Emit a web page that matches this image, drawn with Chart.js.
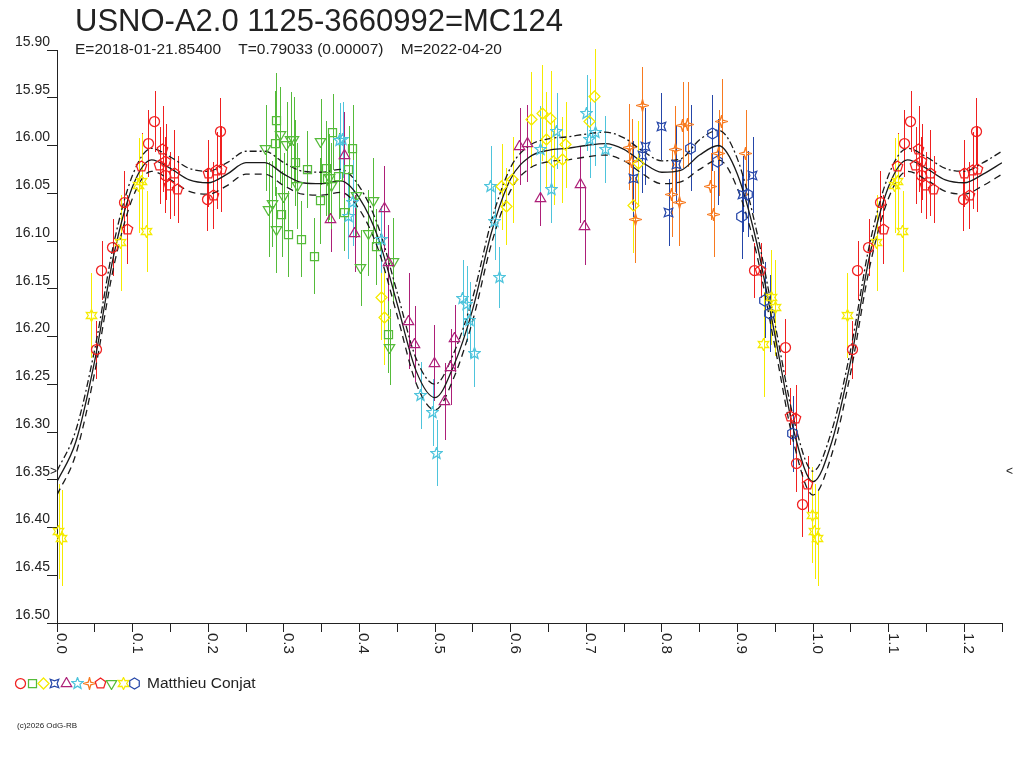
<!DOCTYPE html>
<html>
<head>
<meta charset="utf-8">
<title>MC124 light curve</title>
<script src="https://cdn.jsdelivr.net/npm/chart.js@4.4.1/dist/chart.umd.min.js"></script>
<style>
  html, body { margin: 0; padding: 0; background: #fff; }
  #chartCanvas { display: block; }
</style>
</head>
<body>
<canvas id="chartCanvas" width="1024" height="768"></canvas>
<script>
// Texts
const titleText = "USNO-A2.0 1125-3660992=MC124";
const subtitleText = "E=2018-01-21.85400    T=0.79033 (0.00007)    M=2022-04-20";
const observerName = "Matthieu Conjat";
const footerText = "(c)2026 OdG-RB";

// Axis ranges
const phaseMin = 0;
const phaseMax = 1.25;
const magMin = 15.90;
const magMax = 16.50;
const markLevel = 16.342;

// Fitted light curve (phase, magnitude, upper / lower confidence band)
const fitPhase = [0.000, 0.025, 0.050, 0.075, 0.100, 0.125, 0.150, 0.175, 0.200, 0.225,
                  0.250, 0.275, 0.300, 0.325, 0.350, 0.375, 0.400, 0.425, 0.450, 0.475,
                  0.500, 0.525, 0.550, 0.575, 0.600, 0.625, 0.650, 0.675, 0.700, 0.725,
                  0.750, 0.775, 0.800, 0.825, 0.850, 0.875, 0.900, 0.925, 0.950, 0.975, 1.000];
const fitMag = [16.352, 16.310, 16.225, 16.115, 16.043, 16.015, 16.024, 16.036, 16.039, 16.030,
                16.018, 16.018, 16.030, 16.039, 16.040, 16.037, 16.055, 16.097, 16.166, 16.236,
                16.264, 16.230, 16.171, 16.090, 16.035, 16.012, 16.005, 16.003, 16.000, 15.998,
                16.004, 16.018, 16.028, 16.026, 16.010, 16.000, 16.030, 16.100, 16.200, 16.300, 16.352];
const fitUpper = [16.341, 16.298, 16.213, 16.103, 16.031, 16.003, 16.012, 16.024, 16.027, 16.018,
                  16.006, 16.006, 16.018, 16.027, 16.028, 16.025, 16.043, 16.085, 16.154, 16.223,
                  16.250, 16.217, 16.159, 16.078, 16.023, 16.000, 15.993, 15.991, 15.988, 15.986,
                  15.992, 16.006, 16.016, 16.014, 15.994, 15.984, 16.014, 16.088, 16.188, 16.288, 16.341];
const fitLower = [16.366, 16.323, 16.237, 16.127, 16.055, 16.027, 16.036, 16.048, 16.051, 16.042,
                  16.030, 16.030, 16.042, 16.051, 16.052, 16.049, 16.067, 16.109, 16.178, 16.249,
                  16.277, 16.243, 16.183, 16.102, 16.047, 16.024, 16.017, 16.015, 16.012, 16.010,
                  16.016, 16.030, 16.040, 16.038, 16.025, 16.015, 16.045, 16.112, 16.212, 16.313, 16.366];

// Observations: [phase, magnitude, error]
const redCircles = [
  [0.052, 16.214, 0.030], [0.059, 16.131, 0.031], [0.074, 16.107, 0.030], [0.089, 16.060, 0.033],
  [0.121, 15.998, 0.035], [0.129, 15.975, 0.032], [0.143, 16.031, 0.040], [0.199, 16.057, 0.033],
  [0.216, 15.985, 0.035], [0.922, 16.131, 0.029], [0.963, 16.211, 0.029], [0.978, 16.333, 0.030],
  [0.986, 16.376, 0.034]
];
const greenSquares = [
  [0.290, 15.974, 0.050], [0.289, 15.998, 0.055], [0.365, 15.986, 0.040], [0.391, 16.003, 0.045],
  [0.315, 16.018, 0.045], [0.331, 16.025, 0.040], [0.356, 16.024, 0.050], [0.386, 16.025, 0.045],
  [0.373, 16.032, 0.045], [0.348, 16.058, 0.045], [0.297, 16.072, 0.045], [0.380, 16.070, 0.040],
  [0.306, 16.093, 0.045], [0.323, 16.098, 0.040], [0.340, 16.116, 0.040], [0.422, 16.106, 0.040],
  [0.358, 16.035, 0.045], [0.438, 16.198, 0.040]
];
const yellowDiamonds = [
  [0.429, 16.159, 0.045], [0.433, 16.180, 0.050], [0.588, 16.043, 0.045], [0.594, 16.064, 0.040],
  [0.603, 16.036, 0.045], [0.627, 15.973, 0.050], [0.642, 15.966, 0.050], [0.647, 15.994, 0.050],
  [0.653, 15.972, 0.050], [0.657, 16.017, 0.045], [0.668, 16.015, 0.045], [0.673, 15.999, 0.045],
  [0.705, 15.975, 0.045], [0.711, 15.949, 0.050], [0.762, 16.063, 0.050], [0.769, 16.019, 0.045]
];
const blueCrosses = [
  [0.799, 15.980, 0.035], [0.778, 16.001, 0.040], [0.774, 16.010, 0.040], [0.762, 16.035, 0.040],
  [0.809, 16.070, 0.035], [0.819, 16.020, 0.040], [0.920, 16.031, 0.040], [0.907, 16.051, 0.040]
];
const purpleTriangles = [
  [0.612, 16.001, 0.040], [0.622, 15.998, 0.040], [0.639, 16.056, 0.028], [0.692, 16.041, 0.040],
  [0.698, 16.085, 0.040], [0.380, 16.010, 0.045], [0.362, 16.077, 0.035], [0.394, 16.092, 0.040],
  [0.433, 16.066, 0.045], [0.438, 16.123, 0.040], [0.465, 16.184, 0.050], [0.473, 16.208, 0.040],
  [0.499, 16.228, 0.040], [0.521, 16.232, 0.040], [0.526, 16.202, 0.035], [0.513, 16.268, 0.040]
];
const cyanStars = [
  [0.574, 16.043, 0.042], [0.579, 16.080, 0.040], [0.585, 16.138, 0.032], [0.639, 16.004, 0.045],
  [0.654, 16.046, 0.035], [0.661, 15.985, 0.040], [0.701, 15.966, 0.040], [0.705, 15.994, 0.040],
  [0.712, 15.986, 0.035], [0.725, 16.004, 0.035], [0.537, 16.160, 0.040], [0.542, 16.166, 0.040],
  [0.546, 16.183, 0.040], [0.552, 16.218, 0.035], [0.481, 16.262, 0.035], [0.497, 16.280, 0.035],
  [0.502, 16.322, 0.035], [0.374, 15.995, 0.040], [0.378, 15.994, 0.040], [0.391, 16.060, 0.045],
  [0.385, 16.074, 0.045], [0.429, 16.098, 0.035]
];
const orangeSparks = [
  [0.774, 15.958, 0.040], [0.757, 16.002, 0.045], [0.760, 16.017, 0.045], [0.765, 16.078, 0.045],
  [0.818, 16.004, 0.045], [0.813, 16.051, 0.045], [0.823, 16.060, 0.045], [0.828, 15.979, 0.045],
  [0.834, 15.978, 0.045], [0.879, 15.975, 0.045], [0.875, 16.008, 0.045], [0.865, 16.043, 0.035],
  [0.869, 16.072, 0.045], [0.911, 16.008, 0.045]
];
const redPentagons = [
  [0.093, 16.088, 0.036], [0.112, 16.022, 0.035], [0.136, 16.021, 0.040], [0.140, 16.004, 0.045],
  [0.144, 16.017, 0.040], [0.149, 16.042, 0.035], [0.155, 16.029, 0.045], [0.160, 16.046, 0.035],
  [0.200, 16.029, 0.035], [0.207, 16.052, 0.035], [0.211, 16.026, 0.040], [0.217, 16.025, 0.045],
  [0.931, 16.131, 0.029], [0.970, 16.284, 0.030], [0.977, 16.286, 0.035], [0.993, 16.355, 0.030]
];
const greenDownTriangles = [
  [0.276, 16.003, 0.045], [0.295, 15.989, 0.050], [0.304, 15.999, 0.045], [0.309, 15.994, 0.050],
  [0.313, 15.994, 0.045], [0.349, 15.996, 0.045], [0.285, 16.061, 0.045], [0.280, 16.067, 0.050],
  [0.290, 16.088, 0.045], [0.300, 16.053, 0.045], [0.318, 16.042, 0.045], [0.360, 16.033, 0.045],
  [0.363, 16.042, 0.045], [0.396, 16.052, 0.045], [0.418, 16.058, 0.045], [0.412, 16.092, 0.045],
  [0.402, 16.128, 0.040], [0.445, 16.121, 0.045], [0.440, 16.211, 0.040]
];
const yellowStars = [
  [0.045, 16.178, 0.045], [0.084, 16.102, 0.050], [0.108, 16.042, 0.050], [0.112, 16.038, 0.050],
  [0.119, 16.090, 0.042], [0.935, 16.208, 0.055], [0.945, 16.159, 0.050], [0.950, 16.170, 0.050],
  [0.999, 16.387, 0.050], [0.002, 16.404, 0.050], [0.006, 16.411, 0.050]
];
const blueHexagons = [
  [0.867, 15.987, 0.040], [0.838, 16.003, 0.045], [0.874, 16.017, 0.045], [0.906, 16.074, 0.045],
  [0.914, 16.051, 0.045], [0.936, 16.162, 0.040], [0.943, 16.176, 0.040], [0.973, 16.302, 0.040]
];

// Series in legend order
const seriesPoints = [redCircles, greenSquares, yellowDiamonds, blueCrosses, purpleTriangles, cyanStars,
                      orangeSparks, redPentagons, greenDownTriangles, yellowStars, blueHexagons];
const seriesColors = ["#f02020", "#55bb3a", "#f5eb00", "#2546a8", "#ad1f78", "#4ec4dc",
                      "#f77a20", "#f02020", "#55bb3a", "#f5eb00", "#2546a8"];
const seriesShapes = ["circle", "square", "diamond", "cross4", "triangle", "star5",
                      "spark4", "pentagon", "downTriangle", "star6", "hexagon"];

// Marker images
const polygon = (c, n, r, rot) => {
  c.beginPath();
  for (let i = 0; i < n; i++) {
    const a = rot + i * 2 * Math.PI / n;
    const px = 6.5 + r * Math.cos(a), py = 6.5 + r * Math.sin(a);
    i ? c.lineTo(px, py) : c.moveTo(px, py);
  }
  c.closePath();
};
const starPath = (c, n, ro, ri, rot) => {
  c.beginPath();
  for (let i = 0; i < 2 * n; i++) {
    const r = i % 2 ? ri : ro;
    const a = rot + i * Math.PI / n;
    const px = 6.5 + r * Math.cos(a), py = 6.5 + r * Math.sin(a);
    i ? c.lineTo(px, py) : c.moveTo(px, py);
  }
  c.closePath();
};
const makeMarker = (shape, color) => {
  const cv = document.createElement("canvas");
  cv.width = 13;
  cv.height = 13;
  const c = cv.getContext("2d");
  c.strokeStyle = color;
  c.lineWidth = 1.25;
  const up = -Math.PI / 2;
  switch (shape) {
    case "circle": c.beginPath(); c.arc(6.5, 6.5, 5, 0, 2 * Math.PI); break;
    case "square": c.beginPath(); c.rect(2.5, 2.5, 8, 8); break;
    case "diamond": polygon(c, 4, 5.5, up); break;
    case "cross4": starPath(c, 4, 6, 2.6, Math.PI / 4); break;
    case "triangle": polygon(c, 3, 6, up); break;
    case "star5": starPath(c, 5, 6, 2.6, up); break;
    case "spark4": starPath(c, 4, 6, 1.8, up); break;
    case "pentagon": polygon(c, 5, 5.5, up); break;
    case "downTriangle": polygon(c, 3, 6, Math.PI / 2); break;
    case "star6": starPath(c, 6, 6, 3.2, up); break;
    case "hexagon": polygon(c, 6, 5.5, up); break;
  }
  c.stroke();
  return cv;
};
const markers = seriesShapes.map((s, i) => makeMarker(s, seriesColors[i]));

// Phase-folded data: phases below 0.25 are shown again after 1.0
const foldPoints = pts => {
  const out = pts.map(p => ({ x: p[0], y: p[1], e: p[2] }));
  pts.forEach(p => { if (p[0] + 1 <= phaseMax) out.push({ x: p[0] + 1, y: p[1], e: p[2] }); });
  return out;
};
const foldCurve = mags => {
  const out = fitPhase.map((ph, i) => ({ x: ph, y: mags[i] }));
  fitPhase.forEach((ph, i) => { if (ph > 0 && ph + 1 <= phaseMax) out.push({ x: ph + 1, y: mags[i] }); });
  return out;
};

const fontFamily = '"Liberation Sans", Arial, sans-serif';
const inkColor = "#222";

// Error bars under the markers
const errorBars = {
  id: "errorBars",
  beforeDatasetsDraw(chart) {
    const ctx = chart.ctx;
    const xs = chart.scales.x, ys = chart.scales.y;
    ctx.save();
    ctx.lineWidth = 1;
    chart.data.datasets.forEach(ds => {
      if (!ds.errorBars) return;
      ctx.strokeStyle = ds.borderColor;
      ds.data.forEach(p => {
        const px = Math.round(xs.getPixelForValue(p.x)) + 0.5;
        ctx.beginPath();
        ctx.moveTo(px, Math.round(ys.getPixelForValue(p.y - p.e)));
        ctx.lineTo(px, Math.round(ys.getPixelForValue(p.y + p.e)));
        ctx.stroke();
      });
    });
    ctx.restore();
    // keep marker images crisp
    ctx.imageSmoothingEnabled = false;
  }
};

// Title, rotated phase labels, legend and footer
const texts = {
  id: "texts",
  afterDraw(chart) {
    const ctx = chart.ctx;
    const xs = chart.scales.x, ys = chart.scales.y;
    ctx.save();
    ctx.fillStyle = inkColor;
    ctx.textAlign = "left";
    ctx.textBaseline = "alphabetic";
    ctx.font = "31px " + fontFamily;
    ctx.fillText(titleText, 75, 31);
    ctx.font = "15.5px " + fontFamily;
    ctx.fillText(subtitleText, 75, 54);

    ctx.font = "15px " + fontFamily;
    xs.ticks.forEach(t => {
      if (Math.round(t.value * 20) % 2 !== 0) return;
      const px = xs.getPixelForValue(t.value);
      ctx.save();
      ctx.translate(px, xs.top + 10);
      ctx.rotate(Math.PI / 2);
      ctx.fillText(t.value.toFixed(1), 0, 0);
      ctx.restore();
    });

    // level marks
    const my = ys.getPixelForValue(markLevel);
    ctx.font = "12px " + fontFamily;
    ctx.textBaseline = "middle";
    ctx.fillText(">", xs.left - 7, my);
    ctx.fillText("<", xs.right + 4, my);

    // legend
    ctx.imageSmoothingEnabled = false;
    markers.forEach((m, i) => ctx.drawImage(m, Math.round(20.7 + i * 11.4 - 6.5), 677));
    ctx.textBaseline = "alphabetic";
    ctx.font = "15.5px " + fontFamily;
    ctx.fillText(observerName, 147, 688);

    ctx.font = "8px " + fontFamily;
    ctx.fillText(footerText, 17, 728);
    ctx.restore();
  }
};

const curveStyle = (mags, dash) => ({
  type: "scatter",
  data: foldCurve(mags),
  showLine: true,
  borderColor: "#1a1a1a",
  borderWidth: 1.3,
  borderDash: dash,
  pointRadius: 0,
  cubicInterpolationMode: "monotone",
  order: 2
});

const datasets = seriesPoints.map((pts, i) => ({
  type: "scatter",
  data: foldPoints(pts),
  borderColor: seriesColors[i],
  backgroundColor: seriesColors[i],
  pointStyle: markers[i],
  pointRadius: 5,
  errorBars: true,
  clip: false,
  order: 1
}));
datasets.push(curveStyle(fitMag, []));
datasets.push(curveStyle(fitUpper, [7, 3, 2, 3]));
datasets.push(curveStyle(fitLower, [7, 5]));

const ctx = document.getElementById("chartCanvas").getContext("2d");
const chart = new Chart(ctx, {
  type: "scatter",
  data: { datasets },
  plugins: [errorBars, texts],
  options: {
    responsive: false,
    animation: false,
    layout: { padding: { top: 50, right: 22, left: 0, bottom: 0 } },
    plugins: { legend: { display: false }, tooltip: { enabled: false } },
    scales: {
      x: {
        type: "linear",
        min: phaseMin,
        max: phaseMax,
        afterFit: s => { s.height = 145; },
        ticks: { stepSize: 0.05, display: false },
        grid: { drawOnChartArea: false, drawTicks: true, tickLength: 9, color: inkColor },
        border: { display: true, color: inkColor, width: 1 }
      },
      y: {
        type: "linear",
        reverse: true,
        min: magMin,
        max: magMax,
        afterFit: s => { s.width = 57; },
        ticks: {
          stepSize: 0.05,
          color: inkColor,
          padding: -3,
          labelOffset: -8,
          font: { family: fontFamily, size: 14 },
          callback: v => v.toFixed(2)
        },
        grid: { drawOnChartArea: false, drawTicks: true, tickLength: 10, color: inkColor },
        border: { display: true, color: inkColor, width: 1 }
      }
    }
  }
});
</script>
</body>
</html>
